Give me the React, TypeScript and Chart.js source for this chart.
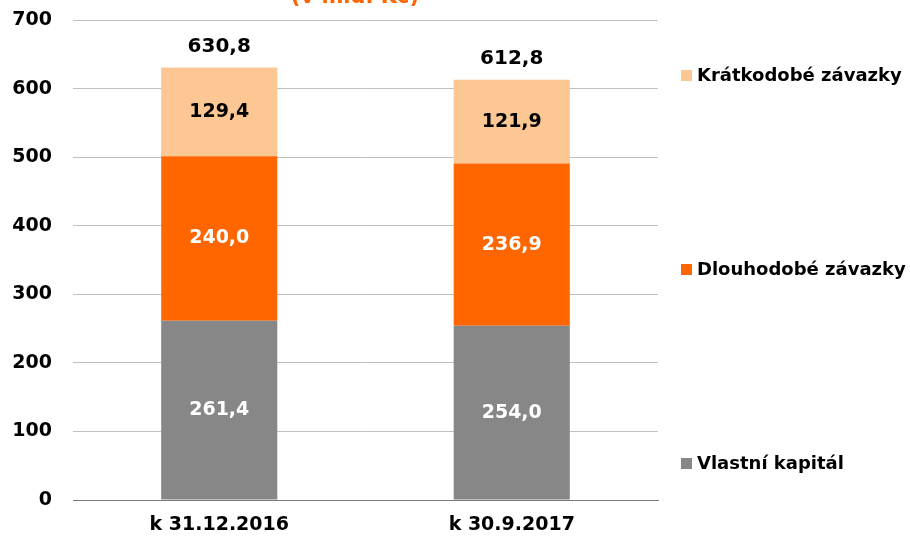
import React, { useEffect, useRef } from "react";
import { Chart, registerables } from "chart.js";
Chart.register(...registerables);

const categories = ["k 31.12.2016", "k 30.9.2017"];
const vlastniKapital = [261.4, 254.0];
const dlouhodobeZavazky = [240.0, 236.9];
const kratkodobeZavazky = [129.4, 121.9];
const totals = [630.8, 612.8];
const seriesNames = ["Vlastní kapitál", "Dlouhodobé závazky", "Krátkodobé závazky"];
const seriesColors = ["#878787", "#ff6600", "#fcc793"];
const labelColors = ["#ffffff", "#ffffff", "#000000"];
const titleText = "(v mld. Kč)";
const yMax = 700;
const yStep = 100;

const FONT = "'DejaVu Sans', sans-serif";
const fmt = (v: number) => v.toFixed(1).replace(".", ",");

const labelPlugin = {
  id: "labels",
  afterDatasetsDraw(chart: any) {
    const ctx = chart.ctx;
    ctx.save();
    ctx.textAlign = "center";
    ctx.textBaseline = "middle";
    chart.data.datasets.forEach((ds: any, di: number) => {
      const meta = chart.getDatasetMeta(di);
      meta.data.forEach((el: any, i: number) => {
        ctx.font = `bold 19px ${FONT}`;
        ctx.fillStyle = labelColors[di];
        ctx.fillText(fmt(ds.data[i]), el.x, (el.y + el.base) / 2);
      });
    });
    const last = chart.getDatasetMeta(chart.data.datasets.length - 1);
    last.data.forEach((el: any, i: number) => {
      ctx.font = `bold 20px ${FONT}`;
      ctx.fillStyle = "#000000";
      ctx.fillText(fmt(totals[i]), el.x, el.y - 21);
    });
    ctx.restore();
  },
  afterDraw(chart: any) {
    const ctx = chart.ctx;
    const area = chart.chartArea;
    ctx.save();
    const order = [2, 1, 0];
    const offsets = [55, 249, 443];
    ctx.textAlign = "left";
    ctx.textBaseline = "middle";
    ctx.font = `bold 18px ${FONT}`;
    order.forEach((di, k) => {
      const y = area.top + offsets[k];
      ctx.fillStyle = seriesColors[di];
      ctx.fillRect(area.right + 23, y - 5, 11, 11);
      ctx.fillStyle = "#000000";
      ctx.fillText(seriesNames[di], area.right + 39, y + 1);
    });
    ctx.font = `bold 21px ${FONT}`;
    ctx.fillStyle = "#ff6600";
    ctx.textAlign = "center";
    ctx.textBaseline = "alphabetic";
    ctx.fillText(titleText, 355, 3);
    ctx.restore();
  },
};

export default function App() {
  const ref = useRef<HTMLCanvasElement>(null);
  useEffect(() => {
    if (!ref.current) return;
    const data = [vlastniKapital, dlouhodobeZavazky, kratkodobeZavazky];
    const chart = new Chart(ref.current, {
      type: "bar",
      data: {
        labels: categories,
        datasets: data.map((d, i) => ({
          label: seriesNames[i],
          data: d,
          backgroundColor: seriesColors[i],
          borderWidth: 0,
          barPercentage: 0.397,
          categoryPercentage: 1,
        })),
      },
      options: {
        responsive: false,
        animation: false,
        layout: { padding: { top: 20, right: 252, left: 0, bottom: 0 } },
        plugins: { legend: { display: false }, tooltip: { enabled: false }, title: { display: false } },
        scales: {
          x: {
            stacked: true,
            grid: { display: false, drawTicks: false },
            border: { display: true, color: "#7a7a7a", width: 1 },
            ticks: { color: "#000000", font: { family: FONT, size: 19, weight: "bold" }, padding: 14 },
            afterFit: (s: any) => { s.height = 37; s.paddingLeft = 0; s.paddingRight = 0; },
          },
          y: {
            stacked: true,
            min: 0,
            max: yMax,
            grid: { color: "#c0c0c0", drawTicks: false, lineWidth: 1 },
            border: { display: false },
            ticks: { stepSize: yStep, color: "#000000", font: { family: FONT, size: 19, weight: "bold" }, padding: 21 },
            afterFit: (s: any) => { s.width = 73; s.paddingTop = 0; s.paddingBottom = 0; },
          },
        },
      },
      plugins: [labelPlugin],
    } as any);
    return () => chart.destroy();
  }, []);
  return (
    <div style={{ position: "fixed", left: 0, top: 0, width: 910, height: 537, background: "#fff" }}>
      <canvas ref={ref} width={910} height={537} style={{ width: 910, height: 537, display: "block" }} />
    </div>
  );
}
